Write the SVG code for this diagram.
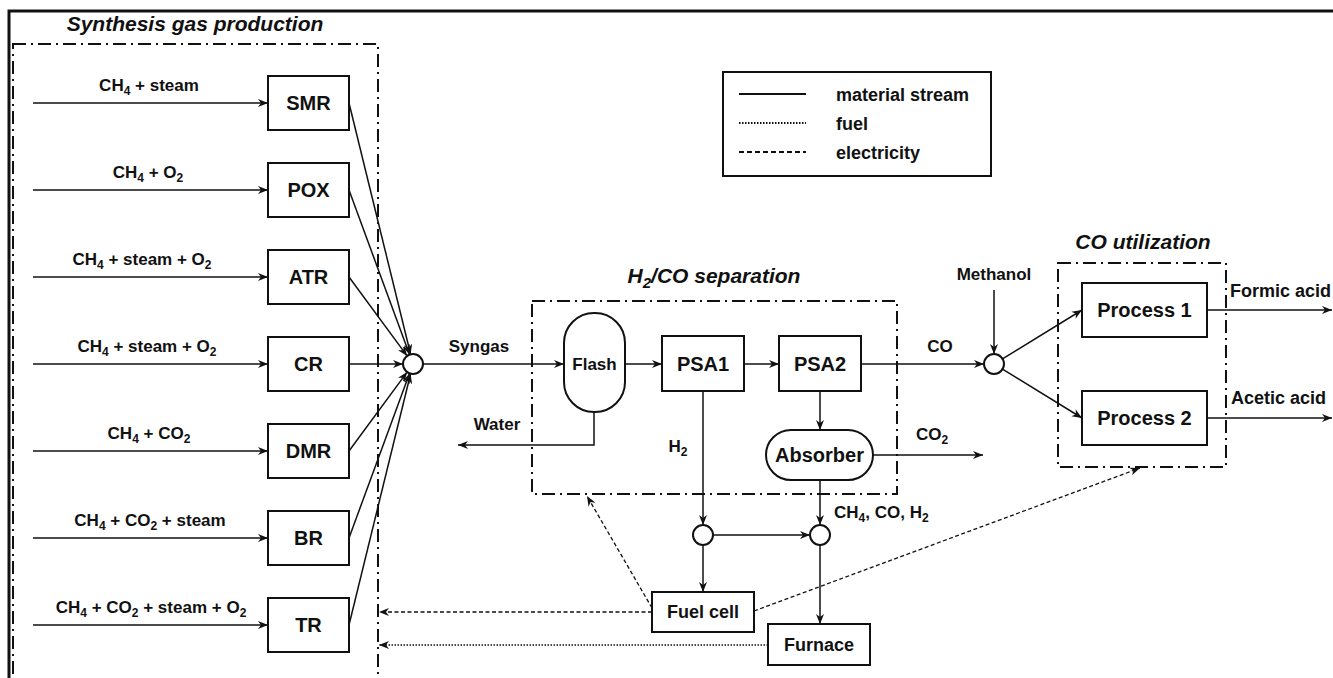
<svg xmlns="http://www.w3.org/2000/svg" width="1333" height="678" viewBox="0 0 1333 678">
<style>
text{font-family:"Liberation Sans",Arial,sans-serif;font-weight:bold;fill:#111}
.t{font-size:21px;font-style:italic;text-anchor:middle}
.lb{font-size:17px;text-anchor:middle}
.bx{font-size:20px;text-anchor:middle}
.sm{font-size:18px;text-anchor:middle}
.box{fill:#fff;stroke:#111;stroke-width:2}
.grp{fill:none;stroke:#111;stroke-width:2;stroke-dasharray:13 5 2 5}
.m{fill:none;stroke:#111;stroke-width:1.5;marker-end:url(#ah)}
.e{fill:none;stroke:#111;stroke-width:1.3;stroke-dasharray:4 2.5;marker-end:url(#ah)}
.f{fill:none;stroke:#111;stroke-width:1.3;stroke-dasharray:1.5 1.5;marker-end:url(#ah)}
.mx{fill:#fff;stroke:#111;stroke-width:2}
</style>
<defs>
<marker id="ah" markerWidth="11" markerHeight="9" refX="10" refY="4.5" orient="auto" markerUnits="userSpaceOnUse">
<path d="M0,0.5 L10,4.5 L0,8.5 L3,4.5 z" fill="#111"/>
</marker>
</defs>
<rect width="1333" height="678" fill="#fff"/>
<!-- outer frame -->
<path d="M9,690 V11 H1340" fill="none" stroke="#111" stroke-width="3"/>

<!-- groups -->
<g id="synthesis-group">
<rect class="grp" x="13" y="44" width="365" height="700"/>
<text class="t" x="195" y="31">Synthesis gas production</text>
</g>
<g id="separation-group">
<rect class="grp" x="532" y="301" width="365" height="193"/>
<text class="t" x="714" y="283">H<tspan font-size="15" dy="5">2</tspan><tspan dy="-5">/CO separation</tspan></text>
</g>
<g id="utilization-group">
<rect class="grp" x="1058" y="263" width="168" height="204"/>
<text class="t" x="1143" y="249">CO utilization</text>
</g>

<!-- legend -->
<g id="legend">
<rect x="723" y="72" width="268" height="104" fill="#fff" stroke="#111" stroke-width="2"/>
<line x1="739" y1="94" x2="806" y2="94" stroke="#111" stroke-width="2"/>
<line x1="739" y1="123" x2="806" y2="123" stroke="#111" stroke-width="2" stroke-dasharray="1.5 1.5"/>
<line x1="739" y1="152" x2="806" y2="152" stroke="#111" stroke-width="2" stroke-dasharray="5 3"/>
<text x="836" y="101" font-size="18">material stream</text>
<text x="836" y="130" font-size="18">fuel</text>
<text x="836" y="159" font-size="18">electricity</text>
</g>

<!-- connectors -->
<g id="connectors">
<line class="m" x1="33" y1="103" x2="268" y2="103"/>
<line class="m" x1="33" y1="190" x2="268" y2="190"/>
<line class="m" x1="33" y1="277" x2="268" y2="277"/>
<line class="m" x1="33" y1="364" x2="268" y2="364"/>
<line class="m" x1="33" y1="451" x2="268" y2="451"/>
<line class="m" x1="33" y1="538" x2="268" y2="538"/>
<line class="m" x1="33" y1="625" x2="268" y2="625"/>
<line class="m" x1="349" y1="103" x2="410.6" y2="354.3"/>
<line class="m" x1="349" y1="190" x2="409.5" y2="354.6"/>
<line class="m" x1="349" y1="277" x2="407.1" y2="355.9"/>
<line class="m" x1="349" y1="364" x2="403" y2="364"/>
<line class="m" x1="349" y1="451" x2="407.1" y2="372.1"/>
<line class="m" x1="349" y1="538" x2="409.5" y2="373.4"/>
<line class="m" x1="349" y1="625" x2="410.6" y2="373.7"/>
<line class="m" x1="423" y1="364" x2="564" y2="364"/>
<line class="m" x1="625" y1="364" x2="662" y2="364"/>
<line class="m" x1="744" y1="364" x2="779" y2="364"/>
<line class="m" x1="861" y1="364" x2="984" y2="364"/>
<line class="m" x1="994" y1="290" x2="994" y2="354"/>
<line class="m" x1="1002.5" y1="358.8" x2="1082" y2="310"/>
<line class="m" x1="1002.5" y1="369.2" x2="1082" y2="418"/>
<line class="m" x1="1207" y1="310" x2="1332" y2="310"/>
<line class="m" x1="1207" y1="418" x2="1332" y2="418"/>
<path class="m" d="M594,412 V445 H458"/>
<line class="m" x1="703" y1="391" x2="703" y2="525"/>
<line class="m" x1="820" y1="391" x2="820" y2="430"/>
<line class="m" x1="873" y1="455" x2="983" y2="455"/>
<line class="m" x1="820" y1="480" x2="820" y2="525"/>
<line class="m" x1="713" y1="535" x2="810" y2="535"/>
<line class="m" x1="703" y1="545" x2="703" y2="592"/>
<line class="m" x1="820" y1="545" x2="820" y2="624"/>
<line class="e" x1="652" y1="608" x2="587" y2="496"/>
<line class="e" x1="652" y1="612" x2="379" y2="612"/>
<line class="e" x1="754" y1="611" x2="1140" y2="468"/>
<line class="f" x1="768" y1="645" x2="379" y2="645"/>
</g>

<!-- stream labels -->
<g id="labels">
<text class="lb" x="149" y="91">CH<tspan font-size="12" dy="4">4</tspan><tspan dy="-4"> + steam</tspan></text>
<text class="lb" x="148" y="178">CH<tspan font-size="12" dy="4">4</tspan><tspan dy="-4"> + O</tspan><tspan font-size="12" dy="4">2</tspan></text>
<text class="lb" x="142" y="265">CH<tspan font-size="12" dy="4">4</tspan><tspan dy="-4"> + steam + O</tspan><tspan font-size="12" dy="4">2</tspan></text>
<text class="lb" x="147" y="352">CH<tspan font-size="12" dy="4">4</tspan><tspan dy="-4"> + steam + O</tspan><tspan font-size="12" dy="4">2</tspan></text>
<text class="lb" x="149" y="439">CH<tspan font-size="12" dy="4">4</tspan><tspan dy="-4"> + CO</tspan><tspan font-size="12" dy="4">2</tspan></text>
<text class="lb" x="150" y="526">CH<tspan font-size="12" dy="4">4</tspan><tspan dy="-4"> + CO</tspan><tspan font-size="12" dy="4">2</tspan><tspan dy="-4"> + steam</tspan></text>
<text class="lb" x="151" y="613">CH<tspan font-size="12" dy="4">4</tspan><tspan dy="-4"> + CO</tspan><tspan font-size="12" dy="4">2</tspan><tspan dy="-4"> + steam + O</tspan><tspan font-size="12" dy="4">2</tspan></text>
<text class="lb" x="479" y="352">Syngas</text>
<text class="lb" x="497" y="430" font-size="18">Water</text>
<text class="lb" x="940" y="352" font-size="18">CO</text>
<text class="lb" x="994" y="280" font-size="18">Methanol</text>
<text x="1230" y="297" font-size="18">Formic acid</text>
<text x="1231" y="404" font-size="18">Acetic acid</text>
<text class="lb" x="678" y="452">H<tspan font-size="12" dy="4">2</tspan></text>
<text class="lb" x="932" y="440">CO<tspan font-size="12" dy="4">2</tspan></text>
<text x="834" y="518" font-size="17">CH<tspan font-size="12" dy="4">4</tspan><tspan dy="-4">, CO, H</tspan><tspan font-size="12" dy="4">2</tspan></text>
</g>

<!-- nodes -->
<g id="SMR"><rect class="box" x="268" y="76" width="81" height="54"/><text class="bx" x="308.5" y="110">SMR</text></g>
<g id="POX"><rect class="box" x="268" y="163" width="81" height="54"/><text class="bx" x="308.5" y="197">POX</text></g>
<g id="ATR"><rect class="box" x="268" y="250" width="81" height="54"/><text class="bx" x="308.5" y="284">ATR</text></g>
<g id="CR"><rect class="box" x="268" y="337" width="81" height="54"/><text class="bx" x="308.5" y="371">CR</text></g>
<g id="DMR"><rect class="box" x="268" y="424" width="81" height="54"/><text class="bx" x="308.5" y="458">DMR</text></g>
<g id="BR"><rect class="box" x="268" y="511" width="81" height="54"/><text class="bx" x="308.5" y="545">BR</text></g>
<g id="TR"><rect class="box" x="268" y="598" width="81" height="54"/><text class="bx" x="308.5" y="632">TR</text></g>
<g id="mixer1"><circle class="mx" cx="413" cy="364" r="10"/></g>
<g id="Flash"><rect class="box" x="564" y="313" width="61" height="99" rx="30" ry="30"/><text class="lb" x="594.5" y="370">Flash</text></g>
<g id="PSA1"><rect class="box" x="662" y="336" width="82" height="55"/><text class="bx" x="703" y="371">PSA1</text></g>
<g id="PSA2"><rect class="box" x="779" y="336" width="82" height="55"/><text class="bx" x="820" y="371">PSA2</text></g>
<g id="Absorber"><rect class="box" x="766" y="430" width="107" height="50" rx="25" ry="25"/><text class="bx" x="819.5" y="462">Absorber</text></g>
<g id="mixer2"><circle class="mx" cx="994" cy="364" r="10"/></g>
<g id="Process1"><rect class="box" x="1082" y="283" width="125" height="54"/><text class="bx" x="1144.5" y="317">Process 1</text></g>
<g id="Process2"><rect class="box" x="1082" y="391" width="125" height="54"/><text class="bx" x="1144.5" y="425">Process 2</text></g>
<g id="mixer3"><circle class="mx" cx="703" cy="535" r="10"/></g>
<g id="mixer4"><circle class="mx" cx="820" cy="535" r="10"/></g>
<g id="FuelCell"><rect class="box" x="652" y="592" width="102" height="40"/><text class="sm" x="703" y="618">Fuel cell</text></g>
<g id="Furnace"><rect class="box" x="768" y="624" width="102" height="41"/><text class="sm" x="819" y="651">Furnace</text></g>
</svg>
